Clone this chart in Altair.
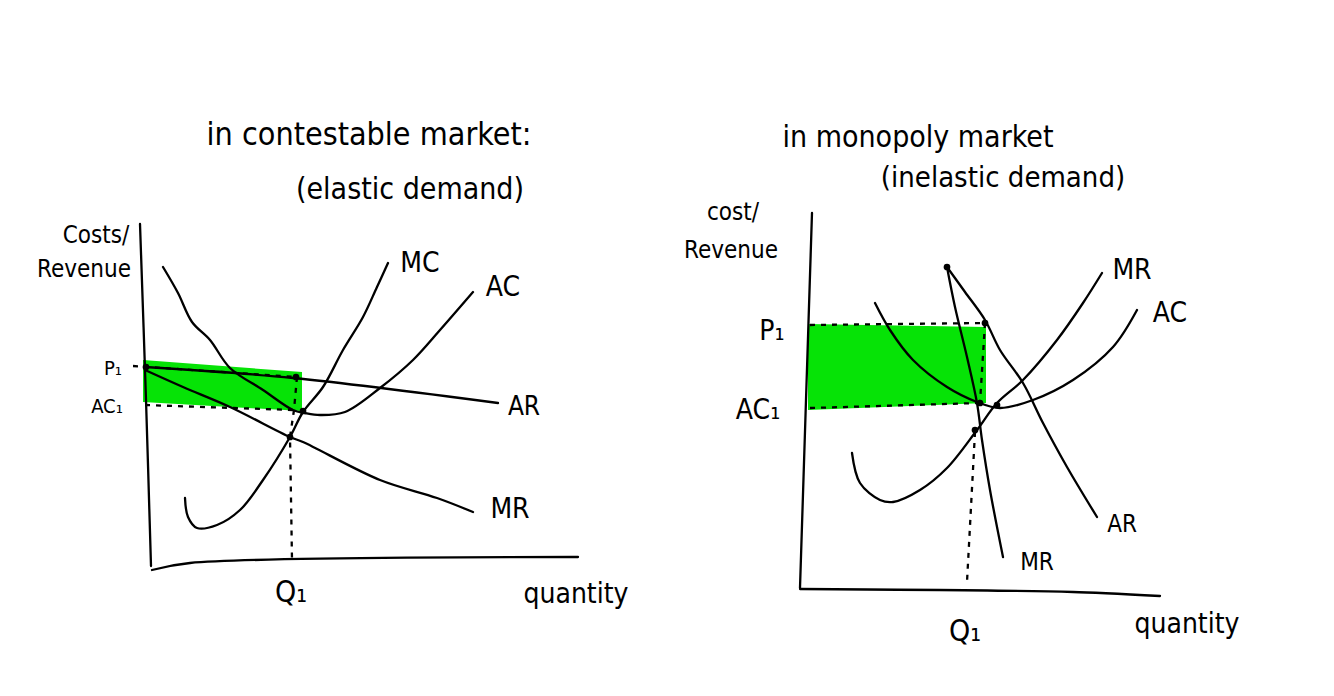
import altair as alt
import pandas as pd

# ---- picture coordinates (x to the right, y downwards) ----
# left panel: contestable market
axis_l_y_x = [140, 146, 151]
axis_l_y_y = [224, 400, 566]
axis_l_x_x = [152, 190, 578]
axis_l_x_y = [570, 563, 557]
ar_l_x = [145, 293, 498]
ar_l_y = [367, 378, 403]
mr_l_x = [145, 183, 230, 290, 303, 380, 437, 473]
mr_l_y = [370, 387, 407, 437, 442, 480, 498, 512]
mc_l_x = [185, 188, 197, 217, 240, 263, 290, 303, 323, 343, 363, 377, 388]
mc_l_y = [498, 517, 528, 525, 510, 480, 437, 412, 387, 350, 317, 287, 263]
ac_l_x = [163, 178, 192, 210, 230, 263, 293, 305, 320, 345, 380, 413, 440, 473]
ac_l_y = [267, 293, 322, 340, 368, 390, 410, 413, 415, 412, 388, 360, 330, 292]

# right panel: monopoly market
axis_r_y_x = [812, 806, 800]
axis_r_y_y = [213, 400, 588]
axis_r_x_x = [800, 1073, 1160]
axis_r_x_y = [589, 592, 596]
ar_r_x = [947, 965, 985, 1000, 1023, 1043, 1067, 1097]
ar_r_y = [267, 292, 320, 350, 383, 423, 467, 517]
mr_r_x = [947, 955, 967, 977, 982, 990, 1003]
mr_r_y = [267, 307, 357, 403, 440, 490, 557]
mc_r_x = [852, 860, 880, 893, 920, 947, 977, 997, 1023, 1057, 1083, 1102]
mc_r_y = [453, 483, 500, 502, 490, 468, 430, 403, 380, 340, 303, 273]
ac_r_x = [875, 890, 913, 947, 977, 1000, 1033, 1073, 1113, 1137]
ac_r_y = [303, 330, 360, 387, 402, 408, 400, 380, 347, 310]

# dashed guide lines
dash_p1_l = ([133, 296], [366, 377])
dash_ac1_l = ([145, 293], [405, 410])
dash_q1_l = ([297, 294, 290, 292], [377, 410, 437, 560])
dash_p1_r = ([810, 985], [325, 323])
dash_ac1_r = ([810, 980], [408, 403])
dash_v1_r = ([985, 980], [323, 403])
dash_q1_r = ([975, 967], [432, 582])

# green profit rectangles (x, top, bottom)
green_l_x = [143, 302]
green_l_top = [360, 372]
green_l_bot = [402, 411]
green_r_x = [808, 986]
green_r_top = [324, 327]
green_r_bot = [410, 403]

# points marked on the curves
dots_x = [146, 296, 303, 290, 947, 985, 980, 997, 975]
dots_y = [367, 377, 411, 437, 267, 323, 403, 405, 430]

# text labels
label_text = ["Costs/", "Revenue", "P₁", "AC₁", "MC", "AC", "AR", "MR", "Q₁", "quantity",
              "cost/", "Revenue", "P₁", "AC₁", "MR", "AC", "AR", "MR", "Q₁", "quantity",
              "in contestable market:", "(elastic demand)",
              "in monopoly market", "(inelastic demand)"]
label_x = [96, 84, 113, 107, 420, 503, 524, 510, 291, 576,
           733, 731, 772, 758, 1132, 1170, 1122, 1037, 965, 1187,
           369, 410, 918, 1003]
label_y = [236, 270, 369, 407, 264, 288, 407, 510, 593, 595,
           213, 251, 332, 411, 271, 314, 525, 563, 632, 625,
           135, 190, 138, 178]
label_size = [24, 24, 20, 20, 28, 28, 26, 28, 30, 28,
              24, 24, 28, 28, 28, 28, 24, 24, 30, 28,
              32, 30, 30, 29]

# ---- tables ----
def to_rows(name, xs, ys):
    return [{"curve": name, "i": i, "x": x, "y": y} for i, (x, y) in enumerate(zip(xs, ys))]

solid = []
for name, xs, ys in [
    ("axis_l_y", axis_l_y_x, axis_l_y_y), ("axis_l_x", axis_l_x_x, axis_l_x_y),
    ("ar_l", ar_l_x, ar_l_y), ("mr_l", mr_l_x, mr_l_y), ("mc_l", mc_l_x, mc_l_y), ("ac_l", ac_l_x, ac_l_y),
    ("axis_r_y", axis_r_y_x, axis_r_y_y), ("axis_r_x", axis_r_x_x, axis_r_x_y),
    ("ar_r", ar_r_x, ar_r_y), ("mr_r", mr_r_x, mr_r_y), ("mc_r", mc_r_x, mc_r_y), ("ac_r", ac_r_x, ac_r_y),
]:
    solid += to_rows(name, xs, ys)
solid_df = pd.DataFrame(solid)

dashed = []
for name, (xs, ys) in [("p1_l", dash_p1_l), ("ac1_l", dash_ac1_l), ("q1_l", dash_q1_l),
                       ("p1_r", dash_p1_r), ("ac1_r", dash_ac1_r), ("v1_r", dash_v1_r), ("q1_r", dash_q1_r)]:
    dashed += to_rows(name, xs, ys)
dashed_df = pd.DataFrame(dashed)

green_df = pd.DataFrame(
    [{"panel": "l", "x": x, "top": t, "bot": b} for x, t, b in zip(green_l_x, green_l_top, green_l_bot)]
    + [{"panel": "r", "x": x, "top": t, "bot": b} for x, t, b in zip(green_r_x, green_r_top, green_r_bot)]
)
dots_df = pd.DataFrame({"x": dots_x, "y": dots_y})
labels_df = pd.DataFrame({"text": label_text, "x": label_x, "y": label_y, "size": label_size})

W, H = 1318, 680
xs = alt.Scale(domain=[8, 8 + W])
ys = alt.Scale(domain=[8 + H, 8])
X = lambda f="x": alt.X(f"{f}:Q", scale=xs, axis=None)
Y = lambda f="y": alt.Y(f"{f}:Q", scale=ys, axis=None)

green = alt.Chart(green_df).mark_area(color="#06e306", opacity=1, interpolate="linear").encode(
    x=X(), y=Y("top"), y2="bot:Q", detail="panel:N")

lines = alt.Chart(solid_df).mark_line(
    color="black", strokeWidth=2.3, strokeCap="round", strokeJoin="round", interpolate="catmull-rom"
).encode(x=X(), y=Y(), detail="curve:N", order="i:Q")

dashes = alt.Chart(dashed_df).mark_line(
    color="black", strokeWidth=2.3, strokeDash=[5, 6], interpolate="linear"
).encode(x=X(), y=Y(), detail="curve:N", order="i:Q")

dots = alt.Chart(dots_df).mark_point(filled=True, color="black", size=45, opacity=1).encode(x=X(), y=Y())

labels = alt.Chart(labels_df).mark_text(
    font="Liberation Sans Narrow, DejaVu Sans Condensed, Liberation Sans, sans-serif",
    align="center", baseline="middle", color="black"
).encode(x=X(), y=Y(), text="text:N", size=alt.Size("size:Q", scale=None, legend=None))

chart = alt.layer(green, lines, dashes, dots, labels).properties(
    width=W, height=H, padding=0, background="white",
    autosize=alt.AutoSizeParams(type="fit", contains="padding"),
).configure_view(strokeWidth=0)

chart.save("out.html", embed_options={"renderer": "svg", "actions": False})
